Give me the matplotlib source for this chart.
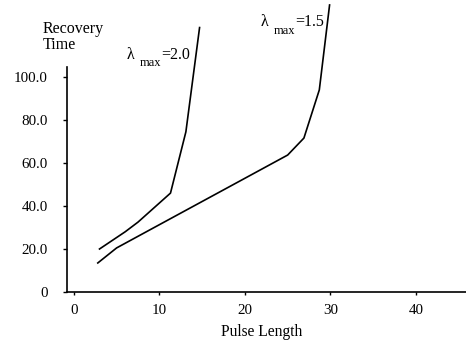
import matplotlib
matplotlib.use("Agg")
import matplotlib.pyplot as plt
from matplotlib.transforms import offset_copy

# values
pulse_lam20 = [3.0, 6.0, 7.5, 11.3, 13.1, 14.7]
recovery_lam20 = [20.0, 28.0, 32.5, 46.0, 74.5, 123.0]
pulse_lam15 = [2.8, 5.0, 8.7, 19.4, 25.0, 26.9, 28.7, 29.9]
recovery_lam15 = [13.5, 20.5, 28.5, 51.6, 63.7, 71.6, 94.0, 133.5]

x_ticks = [0, 10, 20, 30, 40]
y_ticks = [0, 20, 40, 60, 80, 100]
y_ticklabels = ["0", "20.0", "40.0", "60.0", "80.0", "100.0"]

plt.rcParams["font.family"] = ["Liberation Serif", "DejaVu Serif"]

W, H = 466, 345
fig = plt.figure(figsize=(W / 100, H / 100), dpi=100)
ax = fig.add_axes([67 / W, 53 / H, (W - 67) / W, (292 - 1.75) / H])

ax.plot(pulse_lam20, recovery_lam20, color="black", lw=1.2, clip_on=False)
ax.plot(pulse_lam15, recovery_lam15, color="black", lw=1.2, clip_on=False)

ax.set_xlim(-0.8, 45.85)
ax.set_ylim(0, 135)
ax.spines["top"].set_visible(False)
ax.spines["right"].set_visible(False)
ax.spines["left"].set_bounds(0, 104.7)
ax.spines["left"].set_linewidth(1.2)
ax.spines["bottom"].set_linewidth(1.2)

ax.set_xticks(x_ticks)
ax.set_yticks(y_ticks)
ax.set_yticklabels(y_ticklabels)
ax.tick_params(axis="y", direction="out", length=3, width=1, pad=11, labelsize=10.8)
ax.tick_params(axis="x", direction="out", length=2, width=1, pad=7, labelsize=10.8)


def lambda_label(x, y, value):
    # lambda, lowered "max" subscript, then "=value"; offsets in points
    ax.text(x, y, "\u03bb", fontsize=11.5, va="baseline")
    t = offset_copy(ax.transData, fig=fig, x=9, y=-5.5, units="points")
    ax.text(x, y, "max", fontsize=9, va="baseline", transform=t)
    t = offset_copy(ax.transData, fig=fig, x=24.5, y=0, units="points")
    ax.text(x, y, "=" + value, fontsize=11.5, va="baseline", transform=t)


lambda_label(6.2, 108.5, "2.0")
lambda_label(21.85, 123.7, "1.5")

fig.text(43 / W, 1 - 21 / H, "Recovery\nTime", fontsize=11.5, ha="left", va="top",
         linespacing=1.0)
fig.text(262 / W, 1 - 336 / H, "Pulse Length", fontsize=11.2, ha="center",
         va="baseline")

fig.savefig("out.png", dpi=100)
